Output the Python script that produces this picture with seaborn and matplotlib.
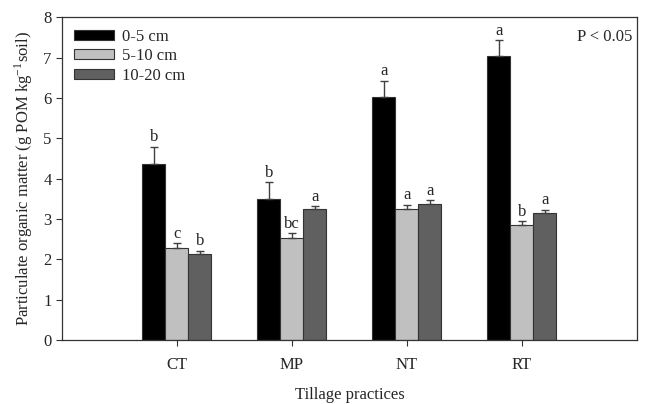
import matplotlib
matplotlib.use("Agg")
import matplotlib.pyplot as plt
import seaborn as sns
import pandas as pd
import numpy as np

# Tillage practices and soil depth layers
practices = ["CT", "MP", "NT", "RT"]
depths = ["0-5 cm", "5-10 cm", "10-20 cm"]

# Particulate organic matter (g POM kg-1 soil), mean per depth
pom_0_5 = [4.37, 3.50, 6.03, 7.03]
pom_5_10 = [2.29, 2.52, 3.25, 2.85]
pom_10_20 = [2.13, 3.24, 3.38, 3.16]

# Standard errors
se_0_5 = [0.42, 0.41, 0.40, 0.40]
se_5_10 = [0.11, 0.12, 0.10, 0.10]
se_10_20 = [0.08, 0.08, 0.08, 0.07]

# Significance letters
let_0_5 = ["b", "b", "a", "a"]
let_5_10 = ["c", "bc", "a", "b"]
let_10_20 = ["b", "a", "a", "a"]

colors = ["#000000", "#c0c0c0", "#606060"]

sns.set_style("ticks")
plt.rcParams["font.family"] = ["Liberation Serif", "DejaVu Serif"]
plt.rcParams["mathtext.fontset"] = "stix"

means = [pom_0_5, pom_5_10, pom_10_20]
errs = [se_0_5, se_5_10, se_10_20]
letters = [let_0_5, let_5_10, let_10_20]

df = pd.DataFrame({
    "practice": np.repeat([practices], 3, axis=0).ravel(),
    "depth": np.repeat(depths, len(practices)),
    "pom": np.concatenate(means),
})

fig = plt.figure(figsize=(6.47, 4.04), dpi=100)
ax = fig.add_axes([0.0958, 0.1584, 0.8887, 0.7990])

sns.barplot(data=df, x="practice", y="pom", hue="depth", order=practices,
            hue_order=depths, palette=colors, width=0.6, errorbar=None,
            edgecolor="#333333", linewidth=0.8, ax=ax)

for cont, m, e, lt in zip(ax.containers, means, errs, letters):
    xs = [p.get_x() + p.get_width() / 2 for p in cont.patches]
    ax.errorbar(xs, m, yerr=[np.zeros(len(e)), e], fmt="none",
                ecolor="#404040", elinewidth=1.0, capsize=2.8, capthick=1.0)
    for x, v, s, t in zip(xs, m, e, lt):
        ax.annotate(t, (x, v + s), xytext=(0, 1.0), textcoords="offset points",
                    ha="center", va="bottom", fontsize=12)

ax.set_xlim(-1, 4)
ax.set_ylim(0, 8)
ax.set_yticks(range(0, 9))
ax.tick_params(axis="both", labelsize=12, length=4, width=0.8, direction="out",
               color="#333333")
ax.tick_params(axis="x", pad=8)
for sp in ax.spines.values():
    sp.set_visible(True)
    sp.set_linewidth(0.9)
    sp.set_color("#333333")

ax.set_xlabel("Tillage practices", fontsize=12, labelpad=10)
ax.set_ylabel(r"Particulate organic matter (g POM kg$^{\mathregular{-1}}$soil)",
              fontsize=12, labelpad=6)

ax.legend(loc="upper left", frameon=False, fontsize=12, handlelength=2.4,
          handleheight=0.55, labelspacing=0.2, handletextpad=0.5,
          borderaxespad=0.3, bbox_to_anchor=(0.0, 1.0))
ax.text(0.992, 0.965, "P < 0.05", transform=ax.transAxes, ha="right", va="top",
        fontsize=12)

fig.savefig("out.png", dpi=100)
